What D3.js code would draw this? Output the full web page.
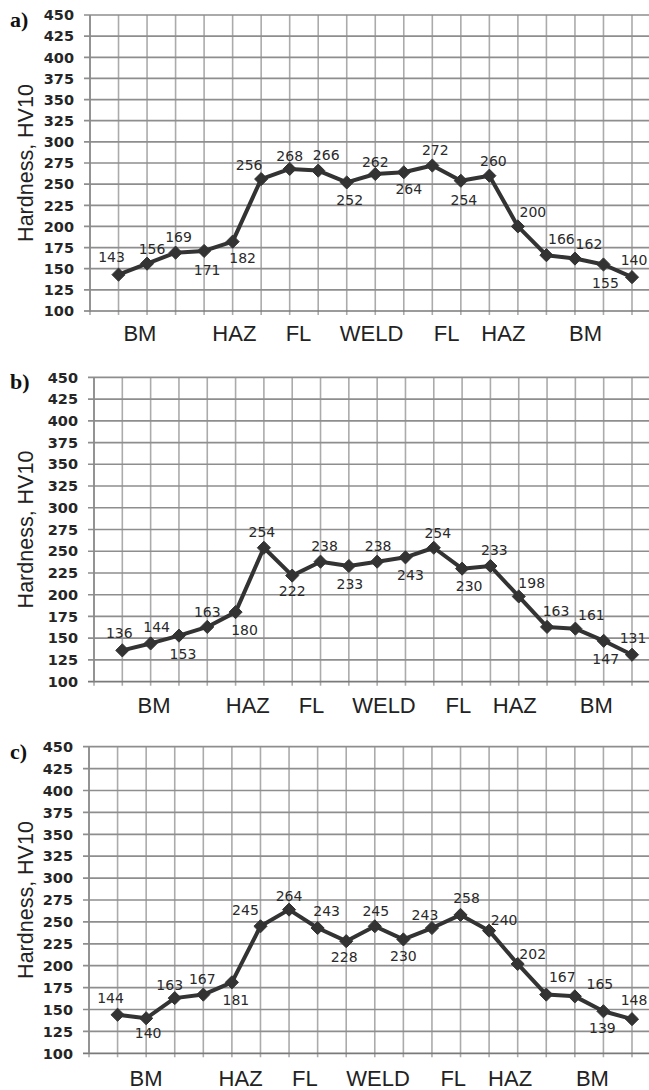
<!DOCTYPE html>
<html>
<head>
<meta charset="utf-8">
<script src="https://cdn.jsdelivr.net/npm/d3@7"></script>
<style>
  html, body { margin: 0; padding: 0; background: #fff; overflow: hidden; }
  svg { display: block; }
</style>
</head>
<body>
<svg id="chart" width="649" height="1090"></svg>
<script>
// ---------------- DATA ----------------
const pointIndex = [1,2,3,4,5,6,7,8,9,10,11,12,13,14,15,16,17,18,19];
const yTickValues = [100,125,150,175,200,225,250,275,300,325,350,375,400,425,450];
const zoneNames = ["BM","HAZ","FL","WELD","FL","HAZ","BM"];
const zoneCenters = [1.75, 5.06, 7.31, 9.87, 12.5, 14.49, 17.37]; // in point-index units

const hardnessA = [143,156,169,171,182,256,268,266,252,262,264,272,254,260,200,166,162,155,140];
const hardnessB = [136,144,153,163,180,254,222,238,233,238,243,254,230,233,198,163,161,147,131];
const hardnessC = [144,140,163,167,181,245,264,243,228,245,230,243,258,240,202,167,165,148,139];
// labels as printed in the figure (panel c prints the last two swapped)
const printedA = hardnessA;
const printedB = hardnessB;
const printedC = [144,140,163,167,181,245,264,243,228,245,230,243,258,240,202,167,165,139,148];

const panelNames = ["a)","b)","c)"];
const yTitle = "Hardness, HV10";

// ---------------- LAYOUT ----------------
const labelOffsetsA = [[-7,-18],[5,-15],[3,-16],[3,19],[10,16],[-12,-14],[0,-13],[8,-16],[3,18],[0,-12],
  [5,17],[3,-16],[3,19],[4,-15],[15,-14],[15,-16],[14,-15],[2,18],[2,-17]];
const labelOffsetsB = [[-3,-17],[6,-16],[4,18],[0,-15],[9,18],[-2,-16],[0,15],[4,-16],[1,18],[1,-16],
  [5,18],[4,-15],[7,17],[4,-16],[13,-14],[9,-16],[16,-14],[2,18],[1,-17]];
const labelOffsetsC = [[-7,-17],[2,15],[-5,-13],[-1,-16],[4,18],[-15,-16],[0,-14],[9,-17],[-2,16],[1,-15],
  [0,17],[-7,-13],[6,-17],[15,-11],[15,-10],[16,-18],[25,-12],[-1,17],[2,-19]];

const panels = [
  {name: panelNames[0], values: hardnessA, printed: printedA, offs: labelOffsetsA,
   x0: 90, x19: 632, top: 15, bottom: 311, zoneShift: 0, zoneDy: 22.5},
  {name: panelNames[1], values: hardnessB, printed: printedB, offs: labelOffsetsB,
   x0: 94, x19: 632, top: 377.3, bottom: 681.7, zoneShift: 10.5, zoneDy: 23.5},
  {name: panelNames[2], values: hardnessC, printed: printedC, offs: labelOffsetsC,
   x0: 89, x19: 632, top: 746.7, bottom: 1053.3, zoneShift: 7, zoneDy: 24.5}
];

const svg = d3.select("#chart");
svg.append("rect").attr("width", 649).attr("height", 1090).attr("fill", "#fff");

panels.forEach(p => {
  const x = d3.scaleLinear().domain([0, 19]).range([p.x0, p.x19]);
  const y = d3.scaleLinear().domain([100, 450]).range([p.bottom, p.top]);
  const g = svg.append("g");

  const gridIdx = d3.range(0, 21);
  // vertical gridlines
  g.append("g").selectAll("line").data(gridIdx).join("line")
    .attr("x1", d => x(d)).attr("x2", d => x(d))
    .attr("y1", y(450)).attr("y2", y(100) + 4)
    .attr("stroke", "#ababab").attr("stroke-width", 1.6);
  // horizontal gridlines (with outside tick marks)
  g.append("g").selectAll("line").data(yTickValues).join("line")
    .attr("x1", p.x0 - 6).attr("x2", x(20))
    .attr("y1", d => y(d)).attr("y2", d => y(d))
    .attr("stroke", d => d === 100 ? "#7a7a7a" : "#8e8e8e").attr("stroke-width", 1.7);
  // left axis line
  g.append("line").attr("x1", x(0)).attr("x2", x(0)).attr("y1", y(450)).attr("y2", y(100))
    .attr("stroke", "#8a8a8a").attr("stroke-width", 1.6);

  // y tick labels
  g.append("g").selectAll("text").data(yTickValues).join("text")
    .attr("x", p.x0 - 16).attr("y", d => y(d)).attr("dy", "0.36em")
    .attr("text-anchor", "end")
    .attr("font-family", "'DejaVu Sans', Verdana, sans-serif")
    .attr("font-weight", "bold").attr("font-size", 14.5).attr("fill", "#262626")
    .text(d => d);

  // y title
  g.append("text")
    .attr("transform", `translate(25,${(p.top + p.bottom) / 2}) rotate(-90)`)
    .attr("text-anchor", "middle").attr("dy", "0.36em")
    .attr("font-family", "'Liberation Sans', Arial, sans-serif")
    .attr("font-size", 21.5).attr("fill", "#222")
    .text(yTitle);

  // panel letter
  g.append("text").attr("x", 10).attr("y", p.top + 12)
    .attr("font-family", "'Liberation Serif', 'Times New Roman', serif")
    .attr("font-weight", "bold").attr("font-size", 22).attr("fill", "#111")
    .text(p.name);

  // zone labels
  g.append("g").selectAll("text").data(zoneNames).join("text")
    .attr("x", (d, i) => x(zoneCenters[i]) + p.zoneShift)
    .attr("y", p.bottom + p.zoneDy).attr("dy", "0.36em")
    .attr("text-anchor", "middle")
    .attr("font-family", "'Liberation Sans', Arial, sans-serif")
    .attr("font-size", 22).attr("fill", "#222")
    .text(d => d);

  // line
  const line = d3.line().x((d, i) => x(pointIndex[i])).y(d => y(d));
  g.append("path").datum(p.values).attr("d", line)
    .attr("fill", "none").attr("stroke", "#333").attr("stroke-width", 4)
    .attr("stroke-linejoin", "round");

  // diamond markers
  const diamond = d3.symbol().type(d3.symbolDiamond2).size(110);
  g.append("g").selectAll("path").data(p.values).join("path")
    .attr("transform", (d, i) => `translate(${x(pointIndex[i])},${y(d)})`)
    .attr("d", diamond).attr("fill", "#333").attr("stroke", "#333").attr("stroke-width", 1);

  // data labels
  g.append("g").selectAll("text").data(p.values).join("text")
    .attr("x", (d, i) => x(pointIndex[i]) + p.offs[i][0])
    .attr("y", (d, i) => y(d) + p.offs[i][1]).attr("dy", "0.36em")
    .attr("text-anchor", "middle")
    .attr("font-family", "'DejaVu Sans', Verdana, sans-serif")
    .attr("font-size", 14).attr("fill", "#2a2a2a")
    .text((d, i) => p.printed[i]);
});
</script>
</body>
</html>
